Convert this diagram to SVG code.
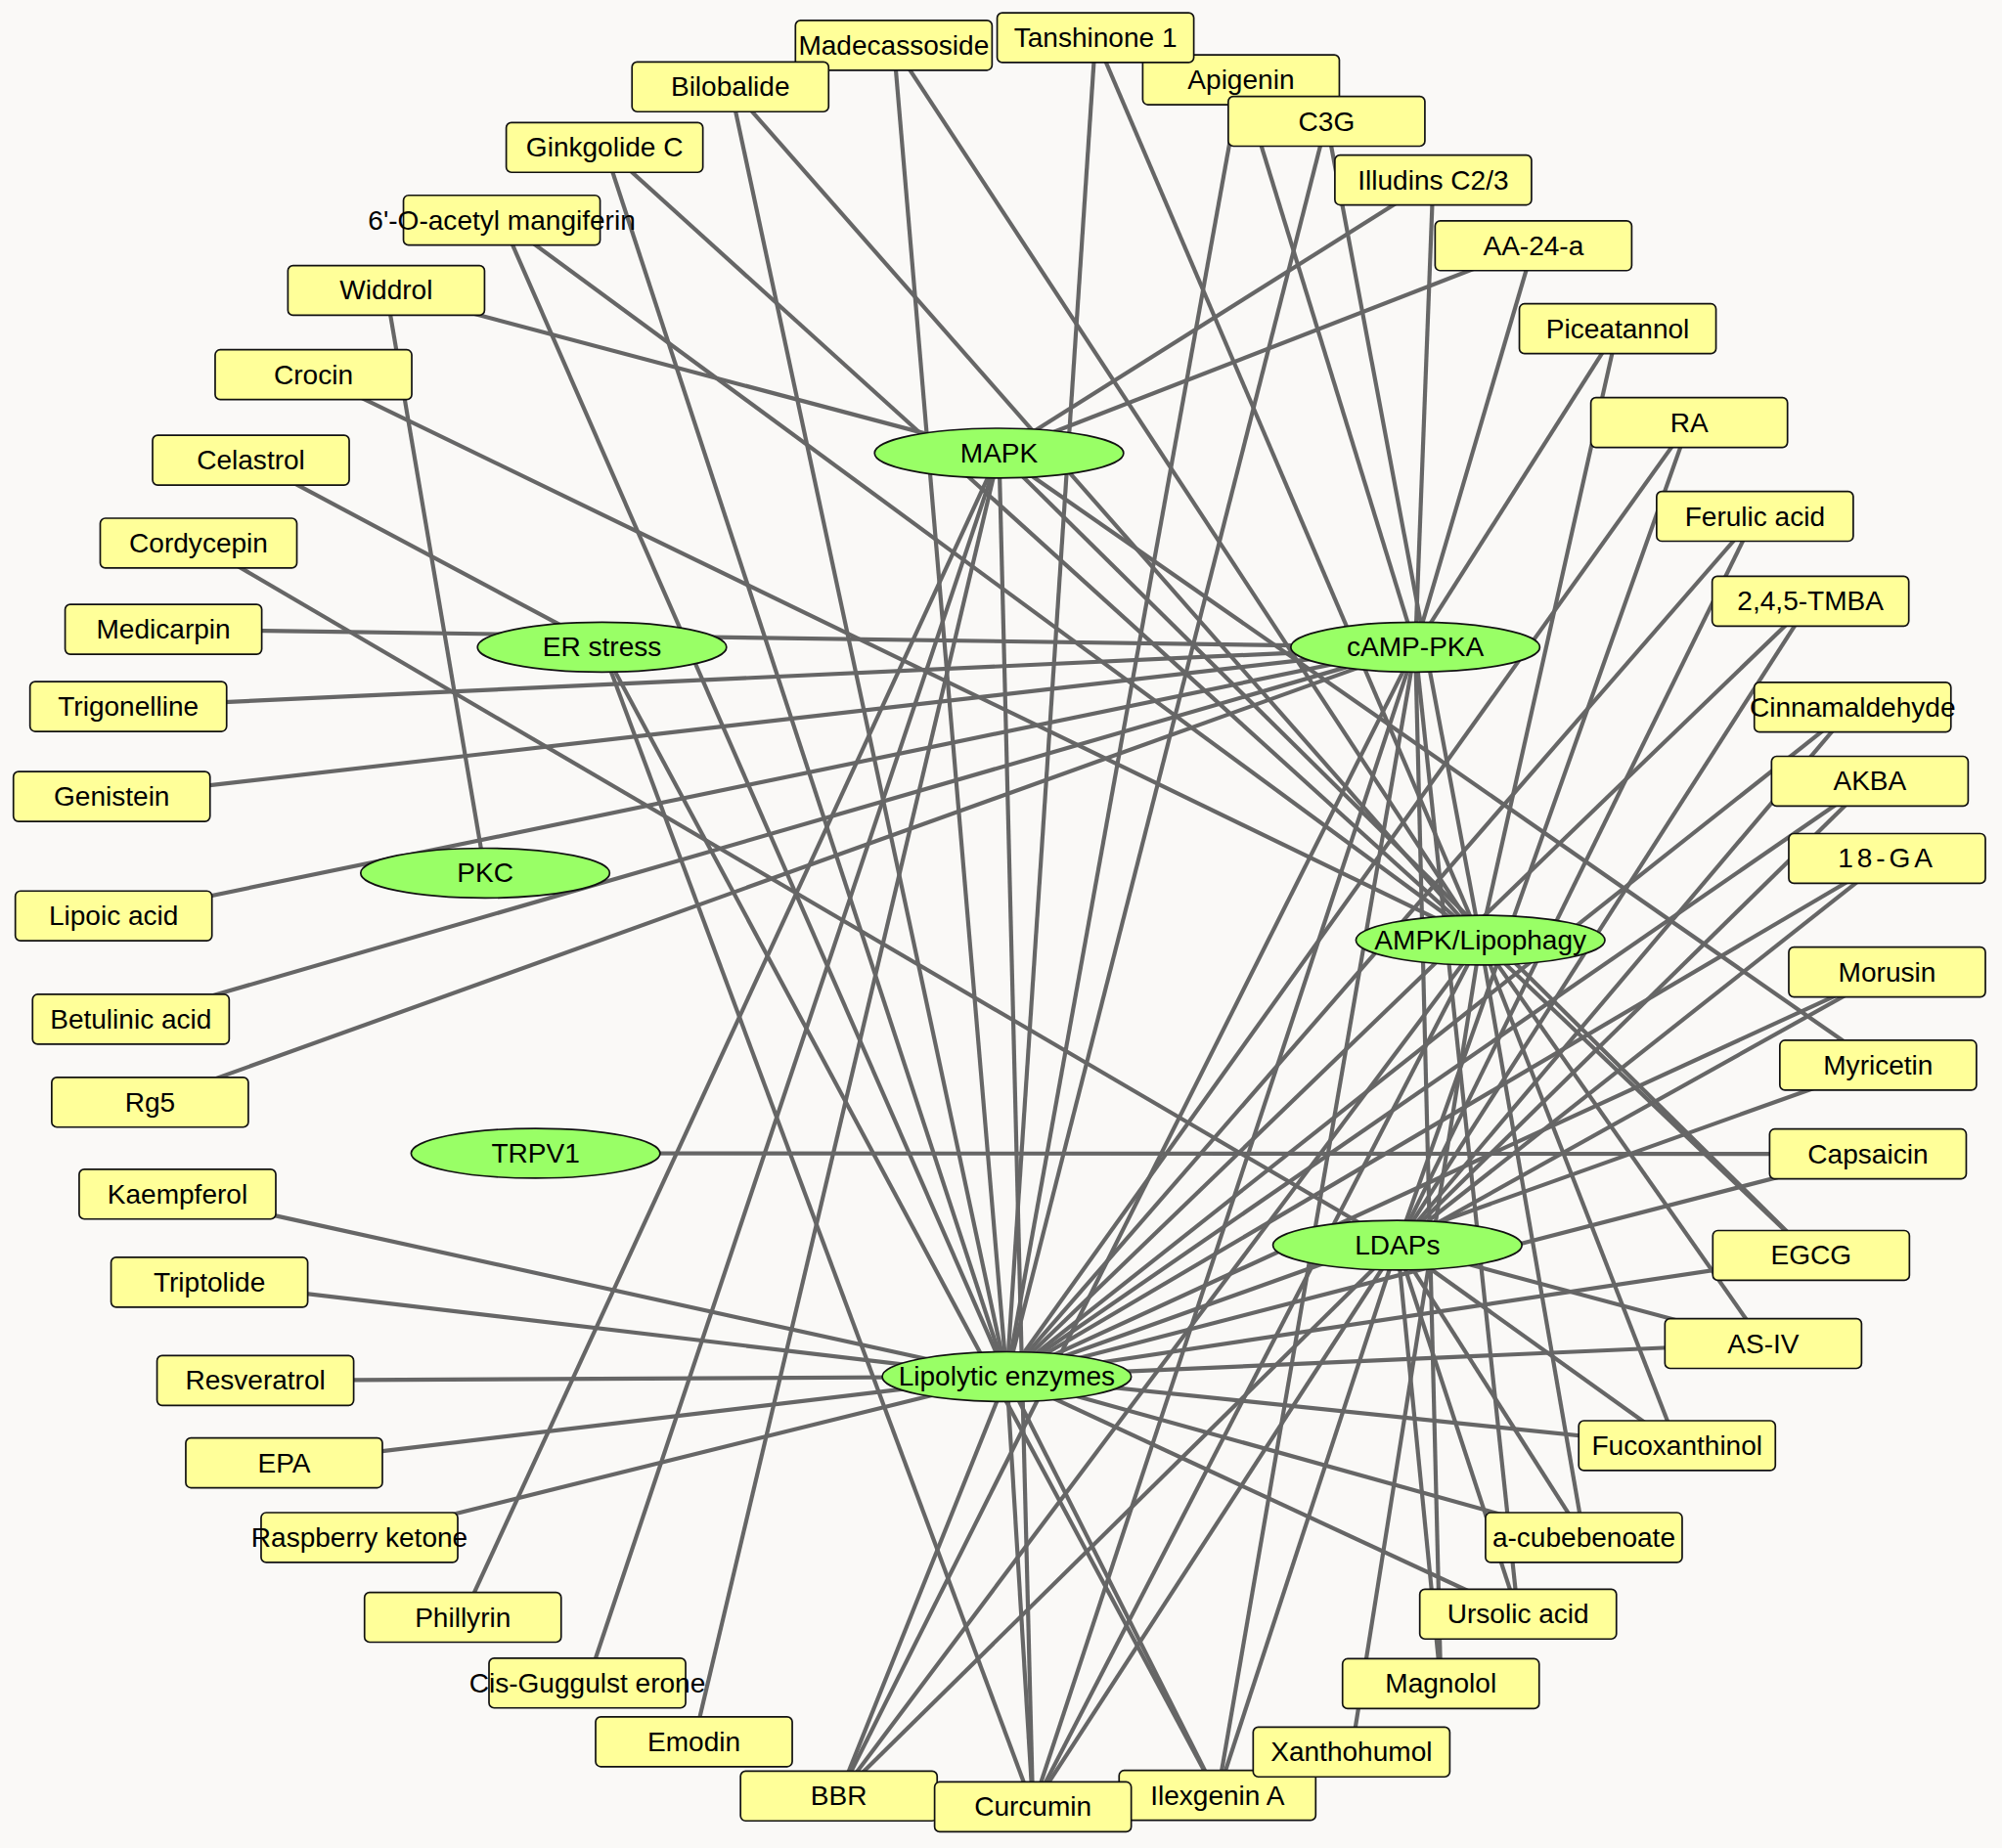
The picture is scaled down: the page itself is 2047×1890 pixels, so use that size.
<svg xmlns="http://www.w3.org/2000/svg" width="2047" height="1890" viewBox="0 0 2047 1890">
<style>
.e{stroke:#666666;stroke-width:3.2;fill:none}
.b{fill:#ffff99;stroke:#111111;stroke-width:1.3}
.h{fill:#99ff66;stroke:#111111;stroke-width:1.3}
text{font-family:"Liberation Sans",Arial,sans-serif;font-size:21.5px;fill:#000000;text-anchor:middle;dominant-baseline:central}
</style>
<rect x="0" y="0" width="2047" height="1890" fill="#faf9f7"/>
<g transform="scale(1.30548)">
<g id="connectors">
<line class="e" x1="302.5" y1="227.5" x2="782.5" y2="355"/>
<line class="e" x1="1122.5" y1="141" x2="782.5" y2="355"/>
<line class="e" x1="1201" y1="192.5" x2="782.5" y2="355"/>
<line class="e" x1="362.5" y1="1267" x2="782.5" y2="355"/>
<line class="e" x1="460" y1="1318.5" x2="782.5" y2="355"/>
<line class="e" x1="543.5" y1="1364.5" x2="782.5" y2="355"/>
<line class="e" x1="1471" y1="834.5" x2="782.5" y2="355"/>
<line class="e" x1="1418.5" y1="983.5" x2="782.5" y2="355"/>
<line class="e" x1="809" y1="1415.5" x2="782.5" y2="355"/>
<line class="e" x1="196.5" y1="360.5" x2="471.5" y2="507"/>
<line class="e" x1="809" y1="1415.5" x2="471.5" y2="507"/>
<line class="e" x1="953.5" y1="1406.5" x2="471.5" y2="507"/>
<line class="e" x1="302.5" y1="227.5" x2="380" y2="684"/>
<line class="e" x1="1463" y1="904" x2="419.5" y2="903.5"/>
<line class="e" x1="128" y1="493" x2="1108.5" y2="507"/>
<line class="e" x1="100.5" y1="553.5" x2="1108.5" y2="507"/>
<line class="e" x1="87.5" y1="624" x2="1108.5" y2="507"/>
<line class="e" x1="89" y1="717.5" x2="1108.5" y2="507"/>
<line class="e" x1="102.5" y1="798.5" x2="1108.5" y2="507"/>
<line class="e" x1="117.5" y1="863.5" x2="1108.5" y2="507"/>
<line class="e" x1="972" y1="62.5" x2="1108.5" y2="507"/>
<line class="e" x1="1122.5" y1="141" x2="1108.5" y2="507"/>
<line class="e" x1="1201" y1="192.5" x2="1108.5" y2="507"/>
<line class="e" x1="1267" y1="257.5" x2="1108.5" y2="507"/>
<line class="e" x1="1189" y1="1264.5" x2="1108.5" y2="507"/>
<line class="e" x1="1128.5" y1="1319" x2="1108.5" y2="507"/>
<line class="e" x1="657" y1="1407" x2="1108.5" y2="507"/>
<line class="e" x1="809" y1="1415.5" x2="1108.5" y2="507"/>
<line class="e" x1="953.5" y1="1406.5" x2="1108.5" y2="507"/>
<line class="e" x1="393" y1="172.5" x2="1159.5" y2="736.5"/>
<line class="e" x1="245.5" y1="293.5" x2="1159.5" y2="736.5"/>
<line class="e" x1="473.5" y1="115.5" x2="1159.5" y2="736.5"/>
<line class="e" x1="572" y1="68" x2="1159.5" y2="736.5"/>
<line class="e" x1="700" y1="35.5" x2="1159.5" y2="736.5"/>
<line class="e" x1="858" y1="29.5" x2="1159.5" y2="736.5"/>
<line class="e" x1="1039" y1="95" x2="1159.5" y2="736.5"/>
<line class="e" x1="1267" y1="257.5" x2="1159.5" y2="736.5"/>
<line class="e" x1="1418.5" y1="983.5" x2="1159.5" y2="736.5"/>
<line class="e" x1="1381" y1="1052.5" x2="1159.5" y2="736.5"/>
<line class="e" x1="1313.5" y1="1132.5" x2="1159.5" y2="736.5"/>
<line class="e" x1="1240.5" y1="1204.5" x2="1159.5" y2="736.5"/>
<line class="e" x1="1058.5" y1="1372.5" x2="1159.5" y2="736.5"/>
<line class="e" x1="657" y1="1407" x2="1159.5" y2="736.5"/>
<line class="e" x1="809" y1="1415.5" x2="1159.5" y2="736.5"/>
<line class="e" x1="155.5" y1="425.5" x2="1094.5" y2="975.5"/>
<line class="e" x1="1323" y1="331" x2="1094.5" y2="975.5"/>
<line class="e" x1="1374.5" y1="404.5" x2="1094.5" y2="975.5"/>
<line class="e" x1="1418" y1="471" x2="1094.5" y2="975.5"/>
<line class="e" x1="1451" y1="554" x2="1094.5" y2="975.5"/>
<line class="e" x1="1464.5" y1="612" x2="1094.5" y2="975.5"/>
<line class="e" x1="1478" y1="672.5" x2="1094.5" y2="975.5"/>
<line class="e" x1="1478" y1="761.5" x2="1094.5" y2="975.5"/>
<line class="e" x1="1381" y1="1052.5" x2="1094.5" y2="975.5"/>
<line class="e" x1="1313.5" y1="1132.5" x2="1094.5" y2="975.5"/>
<line class="e" x1="1240.5" y1="1204.5" x2="1094.5" y2="975.5"/>
<line class="e" x1="1189" y1="1264.5" x2="1094.5" y2="975.5"/>
<line class="e" x1="1128.5" y1="1319" x2="1094.5" y2="975.5"/>
<line class="e" x1="657" y1="1407" x2="1094.5" y2="975.5"/>
<line class="e" x1="809" y1="1415.5" x2="1094.5" y2="975.5"/>
<line class="e" x1="953.5" y1="1406.5" x2="1094.5" y2="975.5"/>
<line class="e" x1="393" y1="172.5" x2="788.5" y2="1078.5"/>
<line class="e" x1="473.5" y1="115.5" x2="788.5" y2="1078.5"/>
<line class="e" x1="572" y1="68" x2="788.5" y2="1078.5"/>
<line class="e" x1="700" y1="35.5" x2="788.5" y2="1078.5"/>
<line class="e" x1="858" y1="29.5" x2="788.5" y2="1078.5"/>
<line class="e" x1="972" y1="62.5" x2="788.5" y2="1078.5"/>
<line class="e" x1="1039" y1="95" x2="788.5" y2="1078.5"/>
<line class="e" x1="1323" y1="331" x2="788.5" y2="1078.5"/>
<line class="e" x1="1374.5" y1="404.5" x2="788.5" y2="1078.5"/>
<line class="e" x1="1418" y1="471" x2="788.5" y2="1078.5"/>
<line class="e" x1="1451" y1="554" x2="788.5" y2="1078.5"/>
<line class="e" x1="1464.5" y1="612" x2="788.5" y2="1078.5"/>
<line class="e" x1="1478" y1="672.5" x2="788.5" y2="1078.5"/>
<line class="e" x1="1478" y1="761.5" x2="788.5" y2="1078.5"/>
<line class="e" x1="1471" y1="834.5" x2="788.5" y2="1078.5"/>
<line class="e" x1="1463" y1="904" x2="788.5" y2="1078.5"/>
<line class="e" x1="1418.5" y1="983.5" x2="788.5" y2="1078.5"/>
<line class="e" x1="1381" y1="1052.5" x2="788.5" y2="1078.5"/>
<line class="e" x1="1313.5" y1="1132.5" x2="788.5" y2="1078.5"/>
<line class="e" x1="1240.5" y1="1204.5" x2="788.5" y2="1078.5"/>
<line class="e" x1="1189" y1="1264.5" x2="788.5" y2="1078.5"/>
<line class="e" x1="953.5" y1="1406.5" x2="788.5" y2="1078.5"/>
<line class="e" x1="809" y1="1415.5" x2="788.5" y2="1078.5"/>
<line class="e" x1="657" y1="1407" x2="788.5" y2="1078.5"/>
<line class="e" x1="281.5" y1="1204.5" x2="788.5" y2="1078.5"/>
<line class="e" x1="222.5" y1="1146" x2="788.5" y2="1078.5"/>
<line class="e" x1="200" y1="1081.5" x2="788.5" y2="1078.5"/>
<line class="e" x1="164" y1="1004.5" x2="788.5" y2="1078.5"/>
<line class="e" x1="139" y1="935.5" x2="788.5" y2="1078.5"/>
</g>
<g id="hub-mapk"><ellipse class="h" cx="782.5" cy="355" rx="97.5" ry="19.5"/><text x="782.5" y="355">MAPK</text></g>
<g id="hub-er-stress"><ellipse class="h" cx="471.5" cy="507" rx="97.5" ry="19.5"/><text x="471.5" y="507">ER stress</text></g>
<g id="hub-camp-pka"><ellipse class="h" cx="1108.5" cy="507" rx="97.5" ry="19.5"/><text x="1108.5" y="507">cAMP-PKA</text></g>
<g id="hub-pkc"><ellipse class="h" cx="380" cy="684" rx="97.5" ry="19.5"/><text x="380" y="684">PKC</text></g>
<g id="hub-ampk"><ellipse class="h" cx="1159.5" cy="736.5" rx="97.5" ry="19.5"/><text x="1159.5" y="736.5">AMPK/Lipophagy</text></g>
<g id="hub-trpv1"><ellipse class="h" cx="419.5" cy="903.5" rx="97.5" ry="19.5"/><text x="419.5" y="903.5">TRPV1</text></g>
<g id="hub-ldaps"><ellipse class="h" cx="1094.5" cy="975.5" rx="97.5" ry="19.5"/><text x="1094.5" y="975.5">LDAPs</text></g>
<g id="hub-lipolytic"><ellipse class="h" cx="788.5" cy="1078.5" rx="97.5" ry="19.5"/><text x="788.5" y="1078.5">Lipolytic enzymes</text></g>
<g id="n-madecassoside"><rect class="b" x="623" y="16" width="154" height="39" rx="4"/><text x="700" y="35.5">Madecassoside</text></g>
<g id="n-apigenin"><rect class="b" x="895" y="43" width="154" height="39" rx="4"/><text x="972" y="62.5">Apigenin</text></g>
<g id="n-tanshinone"><rect class="b" x="781" y="10" width="154" height="39" rx="4"/><text x="858" y="29.5">Tanshinone 1</text></g>
<g id="n-bilobalide"><rect class="b" x="495" y="48.5" width="154" height="39" rx="4"/><text x="572" y="68">Bilobalide</text></g>
<g id="n-c3g"><rect class="b" x="962" y="75.5" width="154" height="39" rx="4"/><text x="1039" y="95">C3G</text></g>
<g id="n-ginkgolide"><rect class="b" x="396.5" y="96" width="154" height="39" rx="4"/><text x="473.5" y="115.5">Ginkgolide C</text></g>
<g id="n-illudins"><rect class="b" x="1045.5" y="121.5" width="154" height="39" rx="4"/><text x="1122.5" y="141">Illudins C2/3</text></g>
<g id="n-mangiferin"><rect class="b" x="316" y="153" width="154" height="39" rx="4"/><text x="393" y="172.5">6'-O-acetyl mangiferin</text></g>
<g id="n-aa24a"><rect class="b" x="1124" y="173" width="154" height="39" rx="4"/><text x="1201" y="192.5">AA-24-a</text></g>
<g id="n-widdrol"><rect class="b" x="225.5" y="208" width="154" height="39" rx="4"/><text x="302.5" y="227.5">Widdrol</text></g>
<g id="n-piceatannol"><rect class="b" x="1190" y="238" width="154" height="39" rx="4"/><text x="1267" y="257.5">Piceatannol</text></g>
<g id="n-crocin"><rect class="b" x="168.5" y="274" width="154" height="39" rx="4"/><text x="245.5" y="293.5">Crocin</text></g>
<g id="n-ra"><rect class="b" x="1246" y="311.5" width="154" height="39" rx="4"/><text x="1323" y="331">RA</text></g>
<g id="n-celastrol"><rect class="b" x="119.5" y="341" width="154" height="39" rx="4"/><text x="196.5" y="360.5">Celastrol</text></g>
<g id="n-ferulic"><rect class="b" x="1297.5" y="385" width="154" height="39" rx="4"/><text x="1374.5" y="404.5">Ferulic acid</text></g>
<g id="n-cordycepin"><rect class="b" x="78.5" y="406" width="154" height="39" rx="4"/><text x="155.5" y="425.5">Cordycepin</text></g>
<g id="n-tmba"><rect class="b" x="1341" y="451.5" width="154" height="39" rx="4"/><text x="1418" y="471">2,4,5-TMBA</text></g>
<g id="n-medicarpin"><rect class="b" x="51" y="473.5" width="154" height="39" rx="4"/><text x="128" y="493">Medicarpin</text></g>
<g id="n-trigonelline"><rect class="b" x="23.5" y="534" width="154" height="39" rx="4"/><text x="100.5" y="553.5">Trigonelline</text></g>
<g id="n-cinnamaldehyde"><rect class="b" x="1374" y="534.5" width="154" height="39" rx="4"/><text x="1451" y="554">Cinnamaldehyde</text></g>
<g id="n-genistein"><rect class="b" x="10.5" y="604.5" width="154" height="39" rx="4"/><text x="87.5" y="624">Genistein</text></g>
<g id="n-akba"><rect class="b" x="1387.5" y="592.5" width="154" height="39" rx="4"/><text x="1464.5" y="612">AKBA</text></g>
<g id="n-18ga"><rect class="b" x="1401" y="653" width="154" height="39" rx="4"/><text x="1478" y="672.5" letter-spacing="3">18-GA</text></g>
<g id="n-lipoic"><rect class="b" x="12" y="698" width="154" height="39" rx="4"/><text x="89" y="717.5">Lipoic acid</text></g>
<g id="n-morusin"><rect class="b" x="1401" y="742" width="154" height="39" rx="4"/><text x="1478" y="761.5">Morusin</text></g>
<g id="n-betulinic"><rect class="b" x="25.5" y="779" width="154" height="39" rx="4"/><text x="102.5" y="798.5">Betulinic acid</text></g>
<g id="n-myricetin"><rect class="b" x="1394" y="815" width="154" height="39" rx="4"/><text x="1471" y="834.5">Myricetin</text></g>
<g id="n-rg5"><rect class="b" x="40.5" y="844" width="154" height="39" rx="4"/><text x="117.5" y="863.5">Rg5</text></g>
<g id="n-capsaicin"><rect class="b" x="1386" y="884.5" width="154" height="39" rx="4"/><text x="1463" y="904">Capsaicin</text></g>
<g id="n-kaempferol"><rect class="b" x="62" y="916" width="154" height="39" rx="4"/><text x="139" y="935.5">Kaempferol</text></g>
<g id="n-egcg"><rect class="b" x="1341.5" y="964" width="154" height="39" rx="4"/><text x="1418.5" y="983.5">EGCG</text></g>
<g id="n-triptolide"><rect class="b" x="87" y="985" width="154" height="39" rx="4"/><text x="164" y="1004.5">Triptolide</text></g>
<g id="n-asiv"><rect class="b" x="1304" y="1033" width="154" height="39" rx="4"/><text x="1381" y="1052.5">AS-IV</text></g>
<g id="n-resveratrol"><rect class="b" x="123" y="1062" width="154" height="39" rx="4"/><text x="200" y="1081.5">Resveratrol</text></g>
<g id="n-fucoxanthinol"><rect class="b" x="1236.5" y="1113" width="154" height="39" rx="4"/><text x="1313.5" y="1132.5">Fucoxanthinol</text></g>
<g id="n-epa"><rect class="b" x="145.5" y="1126.5" width="154" height="39" rx="4"/><text x="222.5" y="1146">EPA</text></g>
<g id="n-raspberry"><rect class="b" x="204.5" y="1185" width="154" height="39" rx="4"/><text x="281.5" y="1204.5">Raspberry ketone</text></g>
<g id="n-cubebenoate"><rect class="b" x="1163.5" y="1185" width="154" height="39" rx="4"/><text x="1240.5" y="1204.5">a-cubebenoate</text></g>
<g id="n-phillyrin"><rect class="b" x="285.5" y="1247.5" width="154" height="39" rx="4"/><text x="362.5" y="1267">Phillyrin</text></g>
<g id="n-ursolic"><rect class="b" x="1112" y="1245" width="154" height="39" rx="4"/><text x="1189" y="1264.5">Ursolic acid</text></g>
<g id="n-guggulsterone"><rect class="b" x="383" y="1299" width="154" height="39" rx="4"/><text x="460" y="1318.5">Cis-Guggulst erone</text></g>
<g id="n-magnolol"><rect class="b" x="1051.5" y="1299.5" width="154" height="39" rx="4"/><text x="1128.5" y="1319">Magnolol</text></g>
<g id="n-emodin"><rect class="b" x="466.5" y="1345" width="154" height="39" rx="4"/><text x="543.5" y="1364.5">Emodin</text></g>
<g id="n-bbr"><rect class="b" x="580" y="1387.5" width="154" height="39" rx="4"/><text x="657" y="1407">BBR</text></g>
<g id="n-ilexgenin"><rect class="b" x="876.5" y="1387" width="154" height="39" rx="4"/><text x="953.5" y="1406.5">Ilexgenin A</text></g>
<g id="n-xanthohumol"><rect class="b" x="981.5" y="1353" width="154" height="39" rx="4"/><text x="1058.5" y="1372.5">Xanthohumol</text></g>
<g id="n-curcumin"><rect class="b" x="732" y="1396" width="154" height="39" rx="4"/><text x="809" y="1415.5">Curcumin</text></g>
</g>
</svg>
